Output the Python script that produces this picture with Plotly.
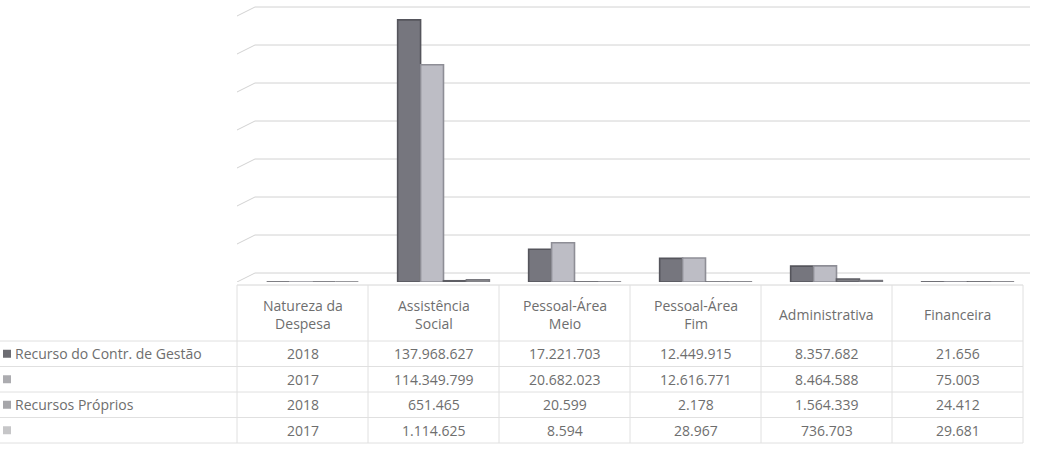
import plotly.graph_objects as go

# ---------------- data ----------------
categories = ["Natureza da Despesa", "Assistência Social", "Pessoal-Área Meio",
              "Pessoal-Área Fim", "Administrativa", "Financeira"]
header_labels = ["Natureza da<br>Despesa", "Assistência<br>Social", "Pessoal-Área<br>Meio",
                 "Pessoal-Área<br>Fim", "Administrativa", "Financeira"]
series_names = ["Recurso do Contr. de Gestão", "", "Recursos Próprios", ""]
rcg_2018 = [2018, 137968627, 17221703, 12449915, 8357682, 21656]
rcg_2017 = [2017, 114349799, 20682023, 12616771, 8464588, 75003]
rp_2018 = [2018, 651465, 20599, 2178, 1564339, 24412]
rp_2017 = [2017, 1114625, 8594, 28967, 736703, 29681]
grid_ticks = [0, 20e6, 40e6, 60e6, 80e6, 100e6, 120e6, 140e6]

series = [rcg_2018, rcg_2017, rp_2018, rp_2017]
colors = ["#76767e", "#bdbdc5", "#7e7e84", "#a4a4aa"]
edge = ["#55555c", "#8e8e96", "#5e5e64", "#78787e"]
legend_sq = ["#6c6c72", "#acacb0", "#a6a6aa", "#c6c6c8"]

W, H = 1056, 461
FONT = "Open Sans"
TXT = "#6e6e6e"

def py(px):  # pixel-from-top -> paper y
    return (H - px) / H

def pxx(px):
    return px / W

# y mapping: 0 at pixel 282, 140M at pixel 16
ZERO_PX, TOP_PX, TOP_V = 282, 16, 140e6
YMAX = 146e6
ymax_px = ZERO_PX - (ZERO_PX - TOP_PX) * YMAX / TOP_V

fig = go.Figure()
for s, vals in enumerate(series):
    fig.add_trace(go.Bar(
        x=categories, y=vals, name=series_names[s] or f"s{s}",
        marker=dict(color=colors[s], line=dict(color=edge[s], width=1.6)),
        showlegend=False, hoverinfo="skip",
    ))

shapes = []
annotations = []

# back-wall gridlines (3D look: shifted up, with a short diagonal on the side wall)
off_v = 9 * TOP_V / (ZERO_PX - TOP_PX)
for v in grid_ticks:
    shapes.append(dict(type="line", xref="paper", yref="y",
                       x0=pxx(255), x1=pxx(1030), y0=v + off_v, y1=v + off_v,
                       line=dict(color="#d2d2d2", width=1), layer="below"))
    shapes.append(dict(type="line", xref="paper", yref="y",
                       x0=pxx(237), x1=pxx(255), y0=v, y1=v + off_v,
                       line=dict(color="#d2d2d2", width=1), layer="below"))

# ---------------- data table ----------------
col_l, col_w = 237, 131
ncol = len(categories)
tbl_top, hdr_bot = 285, 341
row_h = 25.5
row_lines = [hdr_bot + row_h * i for i in range(5)]
tbl_bot = row_lines[-1]
line_c = "#e0e0e0"

shapes.append(dict(type="line", xref="paper", yref="paper",
                   x0=pxx(col_l), x1=pxx(col_l + col_w * ncol), y0=py(tbl_top), y1=py(tbl_top),
                   line=dict(color="#d6d6d6", width=1)))
for yl in row_lines:
    shapes.append(dict(type="line", xref="paper", yref="paper",
                       x0=0, x1=pxx(col_l + col_w * ncol), y0=py(yl), y1=py(yl),
                       line=dict(color=line_c, width=1)))
for i in range(ncol + 1):
    xl = col_l + col_w * i
    shapes.append(dict(type="line", xref="paper", yref="paper",
                       x0=pxx(xl), x1=pxx(xl), y0=py(tbl_top), y1=py(tbl_bot),
                       line=dict(color=line_c, width=1)))

def fmt(v):
    return f"{v:,}".replace(",", ".")

for i, lab in enumerate(header_labels):
    annotations.append(dict(xref="paper", yref="paper",
                            x=pxx(col_l + col_w * (i + 0.5)), y=py((tbl_top + hdr_bot) / 2 + 1),
                            text=lab, showarrow=False, xanchor="center", yanchor="middle",
                            font=dict(family=FONT, size=14, color=TXT)))

for r, vals in enumerate(series):
    yc = py(hdr_bot + row_h * (r + 0.5))
    for i, v in enumerate(vals):
        annotations.append(dict(xref="paper", yref="paper",
                                x=pxx(col_l + col_w * (i + 0.5)), y=yc,
                                text=fmt(v) if i > 0 else str(v), showarrow=False,
                                xanchor="center", yanchor="middle",
                                font=dict(family=FONT, size=14, color=TXT)))
    # legend key
    shapes.append(dict(type="rect", xref="paper", yref="paper",
                       x0=pxx(3), x1=pxx(11),
                       y0=py(hdr_bot + row_h * (r + 0.5) + 4), y1=py(hdr_bot + row_h * (r + 0.5) - 4),
                       fillcolor=legend_sq[r], line=dict(width=0)))
    if series_names[r]:
        annotations.append(dict(xref="paper", yref="paper", x=pxx(13), y=yc,
                                text=series_names[r], showarrow=False,
                                xanchor="left", yanchor="middle",
                                font=dict(family=FONT, size=14, color=TXT)))

fig.update_layout(
    width=W, height=H,
    margin=dict(l=0, r=0, t=0, b=0),
    paper_bgcolor="white", plot_bgcolor="rgba(0,0,0,0)",
    barmode="group", bargap=0.3, bargroupgap=0.0,
    xaxis=dict(domain=[pxx(247), pxx(247 + col_w * ncol)], showticklabels=False,
               showgrid=False, zeroline=False, showline=False, ticks=""),
    yaxis=dict(domain=[py(ZERO_PX), py(ymax_px)], range=[0, YMAX], showticklabels=False,
               showgrid=False, zeroline=False, showline=False, ticks=""),
    shapes=shapes, annotations=annotations,
)

fig.write_html("out.html")
